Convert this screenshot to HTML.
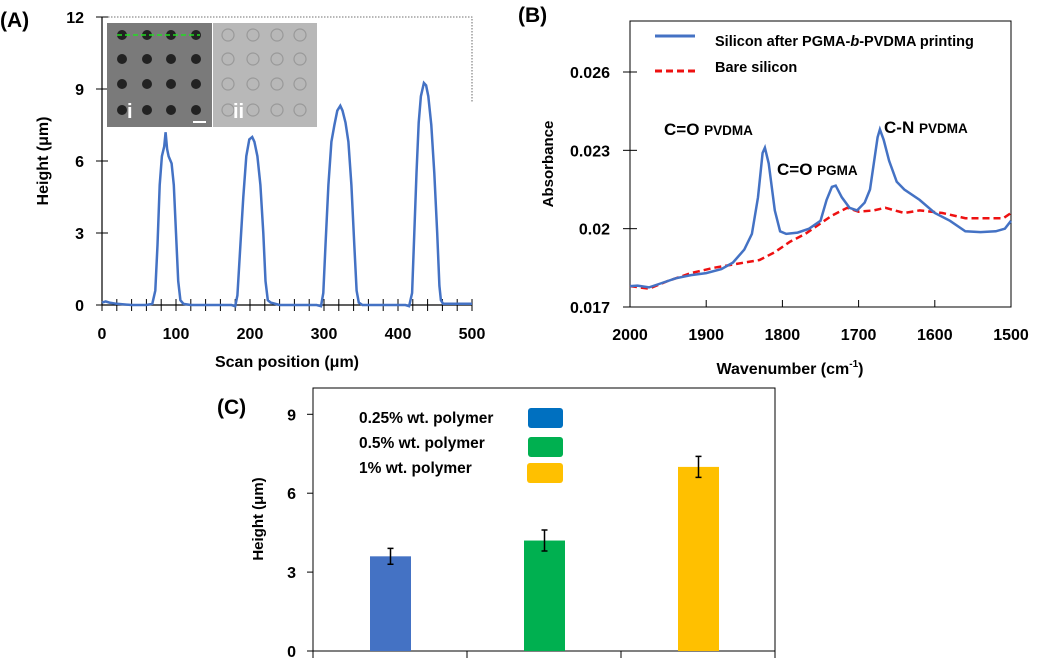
<!DOCTYPE html>
<html><head><meta charset="utf-8"><style>
html,body{margin:0;padding:0;background:#fff;}
svg{display:block;font-family:"Liberation Sans",sans-serif;font-weight:bold;}
</style></head><body>
<svg id="fig" width="1038" height="658" viewBox="0 0 1038 658">
<!-- Panel A -->
<g id="pa">
 <text x="0" y="27" font-size="21">(A)</text>
 <path d="M102 17 H472 V103" fill="none" stroke="#444" stroke-width="0.8" stroke-dasharray="1.5,1.5"/>
 <line x1="102" y1="17" x2="102" y2="305" stroke="#000" stroke-width="1.2"/>
 <line x1="102" y1="305" x2="472" y2="305" stroke="#000" stroke-width="1.2"/>
 <g id="pa-ticks"></g>
 <text x="0" y="0" transform="translate(48,161) rotate(-90)" text-anchor="middle" font-size="16">Height (μm)</text>
 <text x="287" y="367" text-anchor="middle" font-size="16">Scan position  (μm)</text>
 <g id="inset">
  <rect x="107" y="23" width="105" height="104" fill="#7a7a7a"/>
  <rect x="213" y="23" width="104" height="104" fill="#b8b8b8"/>
  <g id="dots"></g>
  <line x1="117" y1="35" x2="200" y2="35" stroke="#22dd22" stroke-width="1.5" stroke-dasharray="5,3"/>
  <rect x="193" y="121" width="13" height="2" fill="#fff"/>
  <text x="127" y="118" font-size="20" fill="#fff">i</text>
  <text x="233" y="118" font-size="20" fill="#fff">ii</text>
 </g>
 <path id="pa-line" fill="none" stroke="#4472c4" stroke-width="2.5"/>
</g>
<!-- Panel B -->
<g id="pb">
 <text x="518" y="22" font-size="21">(B)</text>
 <rect x="630" y="21" width="381" height="286" fill="none" stroke="#000" stroke-width="1"/>
 <g id="pb-ticks"></g>
 <text transform="translate(553,164) rotate(-90)" text-anchor="middle" font-size="15">Absorbance</text>
 <text x="790" y="374" text-anchor="middle" font-size="16">Wavenumber  (cm<tspan font-size="10" dy="-7">-1</tspan><tspan dy="7">)</tspan></text>
 <line x1="655" y1="36" x2="695" y2="36" stroke="#4472c4" stroke-width="3"/>
 <text x="715" y="46" font-size="14.5">Silicon after PGMA-<tspan font-style="italic">b</tspan>-PVDMA printing</text>
 <line x1="655" y1="71" x2="695" y2="71" stroke="#ee1111" stroke-width="3" stroke-dasharray="7,4"/>
 <text x="715" y="72" font-size="14.5">Bare silicon</text>
 <text x="664" y="135" font-size="17">C=O <tspan font-size="13.5">PVDMA</tspan></text>
 <text x="777" y="175" font-size="17">C=O <tspan font-size="13.5">PGMA</tspan></text>
 <text x="884" y="133" font-size="17">C-N  <tspan font-size="13.5">PVDMA</tspan></text>
 <path id="pb-red" fill="none" stroke="#ee1111" stroke-width="2.5" stroke-dasharray="7,4"/>
 <path id="pb-blue" fill="none" stroke="#4472c4" stroke-width="2.5"/>
</g>
<!-- Panel C -->
<g id="pc">
 <text x="217" y="414" font-size="21">(C)</text>
 <rect x="313" y="388" width="462" height="263" fill="none" stroke="#000" stroke-width="1"/>
 <g id="pc-ticks"></g>
 <text transform="translate(263,519) rotate(-90)" text-anchor="middle" font-size="15">Height (μm)</text>
 <g id="pc-bars"></g>
 <text x="359" y="423" font-size="15.5">0.25% wt. polymer</text>
 <rect x="528" y="408" width="35" height="20" rx="3" fill="#0070c0"/>
 <text x="359" y="448" font-size="15.5">0.5% wt. polymer</text>
 <rect x="528" y="437" width="35" height="20" rx="3" fill="#00b050"/>
 <text x="359" y="473" font-size="15.5">1% wt. polymer</text>
 <rect x="527" y="463" width="36" height="20" rx="3" fill="#ffc000"/>
</g>
</svg>
<script>
// Panel A data
const aX = [0,5,10,20,40,60,68,72,75,78,81,84,86,88,90,94,97,100,103,106,110,120,140,175,180,183,187,191,195,199,203,206,210,214,218,221,224,228,240,290,296,299,302,306,310,314,318,322,325,329,333,337,341,344,347,352,360,410,415,419,422,425,428,431,435,438,441,445,449,453,456,458,461,470,500];
const aY = [0.1,0.15,0.1,0.05,0.0,0.0,0.05,0.6,2.5,5.0,6.2,6.6,7.2,6.5,6.2,5.9,5.0,3.0,1.0,0.2,0.05,0.0,0.0,0.0,-0.05,0.4,2.5,4.5,6.2,6.9,7.0,6.8,6.2,5.0,3.0,1.0,0.2,0.1,0.0,0.0,-0.05,0.5,2.5,5.0,6.8,7.5,8.1,8.3,8.1,7.6,6.8,5.0,2.5,0.6,0.1,0.0,0.0,0.0,-0.05,0.5,3.0,5.5,7.6,8.7,9.25,9.15,8.7,7.5,5.5,3.0,0.8,0.2,0.05,0.05,0.05];
const aXTicks = [0,100,200,300,400,500];
const aYTicks = [0,3,6,9,12];
// Panel B data
const bBlueX = [2000,1990,1975,1960,1940,1920,1900,1880,1865,1850,1840,1832,1826,1823,1818,1810,1803,1795,1780,1765,1750,1742,1735,1730,1722,1712,1702,1692,1685,1680,1675,1672,1667,1660,1650,1640,1620,1600,1580,1560,1540,1520,1508,1500];
const bBlueY = [0.0178,0.01782,0.01775,0.0179,0.0181,0.01822,0.0183,0.01845,0.0187,0.0192,0.0198,0.0212,0.0229,0.0231,0.0225,0.0207,0.0199,0.0198,0.01985,0.0200,0.0203,0.0211,0.0216,0.02165,0.0212,0.0208,0.0207,0.0210,0.0215,0.0225,0.0235,0.0238,0.0234,0.0226,0.0218,0.0215,0.0211,0.0206,0.0203,0.0199,0.01987,0.0199,0.0200,0.0203];
const bRedX = [2000,1975,1950,1920,1890,1860,1830,1810,1790,1770,1750,1735,1715,1700,1680,1665,1640,1620,1590,1560,1530,1510,1500];
const bRedY = [0.0178,0.0177,0.018,0.0183,0.0185,0.01865,0.0188,0.0191,0.0195,0.0198,0.0202,0.0205,0.0208,0.02065,0.0207,0.0208,0.0206,0.0207,0.0206,0.0204,0.0204,0.0204,0.0206];
const bXTicks = [2000,1900,1800,1700,1600,1500];
const bYTicks = [0.017,0.02,0.023,0.026];
const bYLabels = ["0.017","0.02","0.023","0.026"];
// Panel C data
const cCats = ["0.25% wt. polymer","0.5% wt. polymer","1% wt. polymer"];
const cVals = [3.6,4.2,7.0];
const cErr = [0.3,0.4,0.4];
const cColors = ["#4472c4","#00b050","#ffc000"];
const cYTicks = [0,3,6,9];

const NS="http://www.w3.org/2000/svg";
function mk(tag,attrs,parent){const e=document.createElementNS(NS,tag);for(const k in attrs)e.setAttribute(k,attrs[k]);parent.appendChild(e);return e;}

// Panel A
const ax=v=>102+v*370/500, ay=v=>305-v*24;
document.getElementById('pa-line').setAttribute('d',aX.map((x,i)=>(i?'L':'M')+ax(x).toFixed(1)+' '+ay(aY[i]).toFixed(1)).join(' '));
const pat=document.getElementById('pa-ticks');
for(let v=0;v<=500;v+=20){const l=mk('line',{x1:ax(v),x2:ax(v),y1:299,y2:311,stroke:'#000','stroke-width':1},pat);

}
aXTicks.forEach(v=>{const t=mk('text',{x:ax(v),y:339,'text-anchor':'middle','font-size':16},pat);t.textContent=v;

});
aYTicks.forEach(v=>{const l=mk('line',{x1:96,x2:108,y1:ay(v),y2:ay(v),stroke:'#000','stroke-width':1},pat);


const t=mk('text',{x:84,y:ay(v)+6,'text-anchor':'end','font-size':16},pat);t.textContent=v;

});
// inset dots
const dots=document.getElementById('dots');
[35,59,84,110].forEach(y=>{[122,147,171,196].forEach(x=>{const c=mk('circle',{cx:x,cy:y,r:5,fill:'#222'},dots);

});
[228,253,277,300].forEach(x=>{const c=mk('circle',{cx:x,cy:y,r:6,fill:'none',stroke:'#999','stroke-width':1.2},dots);

});});

// Panel B
const bx=v=>630+(2000-v)*381/500, by=v=>307-(v-0.017)*235/0.009;
document.getElementById('pb-blue').setAttribute('d',bBlueX.map((x,i)=>(i?'L':'M')+bx(x).toFixed(1)+' '+by(bBlueY[i]).toFixed(1)).join(' '));
document.getElementById('pb-red').setAttribute('d',bRedX.map((x,i)=>(i?'L':'M')+bx(x).toFixed(1)+' '+by(bRedY[i]).toFixed(1)).join(' '));
const pbt=document.getElementById('pb-ticks');
bXTicks.forEach(v=>{const l=mk('line',{x1:bx(v),x2:bx(v),y1:300,y2:307,stroke:'#000','stroke-width':1},pbt);


const t=mk('text',{x:bx(v),y:340,'text-anchor':'middle','font-size':16},pbt);t.textContent=v;

});
bYTicks.forEach((v,i)=>{const l=mk('line',{x1:623,x2:637,y1:by(v),y2:by(v),stroke:'#000','stroke-width':1},pbt);


const t=mk('text',{x:610,y:by(v)+6,'text-anchor':'end','font-size':16},pbt);t.textContent=bYLabels[i];

});

// Panel C
const cy=v=>651-v*263/10, cw=154, cx=i=>313+cw*(i+0.5);
const pct=document.getElementById('pc-ticks'), pcb=document.getElementById('pc-bars');
for(let i=0;i<=3;i++){const l=mk('line',{x1:313+cw*i,x2:313+cw*i,y1:651,y2:658,stroke:'#000','stroke-width':1},pct);

}
cYTicks.forEach(v=>{const l=mk('line',{x1:307,x2:313,y1:cy(v),y2:cy(v),stroke:'#000','stroke-width':1},pct);


const t=mk('text',{x:296,y:cy(v)+6,'text-anchor':'end','font-size':16},pct);t.textContent=v;

});
cVals.forEach((v,i)=>{const r=mk('rect',{x:cx(i)-20,y:cy(v),width:41,height:651-cy(v),fill:cColors[i]},pcb);


const xc=cx(i)+0.5, t1=cy(v+cErr[i]), t2=cy(v-cErr[i]);
const e=mk('path',{d:`M${xc-3} ${t1}H${xc+3}M${xc} ${t1}V${t2}M${xc-3} ${t2}H${xc+3}`,stroke:'#000','stroke-width':1.5,fill:'none'},pcb);

});
</script>
</body></html>
